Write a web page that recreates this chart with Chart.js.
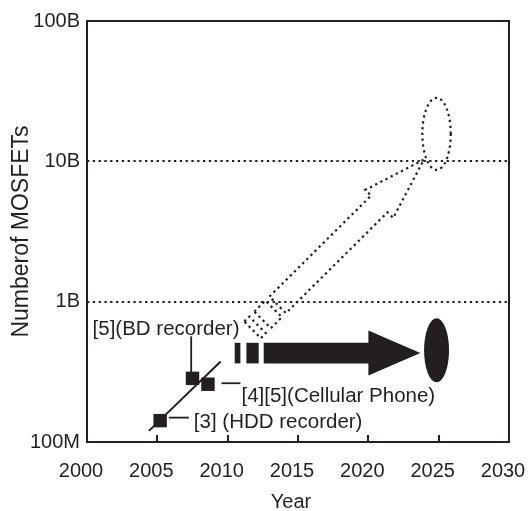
<!DOCTYPE html>
<html>
<head>
<meta charset="utf-8">
<script src="https://cdn.jsdelivr.net/npm/chart.js@4/dist/chart.umd.min.js"></script>
<style>
  html, body { margin: 0; padding: 0; background: #fff; }
  #wrap { width: 528px; height: 511px; }
</style>
</head>
<body>
<div id="wrap"><canvas id="chart" width="528" height="511"></canvas></div>
<script>
const INK = '#231f20';
const FONT = "'Liberation Sans', Arial, Helvetica, sans-serif";

// Reported products: year and MOSFET count
const productYears = [2005.2, 2007.5, 2008.6];
const productCounts = [1.42e8, 2.84e8, 2.58e8];
const productLabels = ['[3] (HDD recorder)', '[5](BD recorder)', '[4][5](Cellular Phone)'];

// Growth line through the reported products
const trendYears = [2004.4, 2009.5];
const trendCounts = [1.2e8, 3.75e8];

// Projection arrows (tail, tip) and their target ellipses
const flatYears = [2010.5, 2023.7];
const flatCounts = [4.3e8, 4.3e8];
const scaledYears = [2011.77, 2023.95];
const scaledCounts = [6.3e8, 1.029e10];
const targetYears = [2024.85, 2024.85];
const targetCounts = [4.5e8, 1.57e10];

// Axis ticks
const xTicks = [2000, 2005, 2010, 2015, 2020, 2025, 2030];
const yTicks = [1e8, 1e9, 1e10, 1e11];
const yTickLabels = ['100M', '1B', '10B', '100B'];
const gridCounts = [1e9, 1e10];

// Leader lines and label placement for each product (pixel offsets from its marker)
const callouts = [
  { leader: [[8.7, -3], [28.7, -3]], text: [33.7, 7.7], align: 'left' },
  { leader: [[-1.3, -6], [-1.3, -42]], text: [47, -43], align: 'right' },
  { leader: [[13.5, -1], [32.5, -1]], text: [33.5, 18], align: 'left' }
];

// Arrow outlines: tail blocks, shaft start, head length, half widths (px along the arrow)
const flatShape = { blocks: [[0, 5.7], [11.7, 24]], shaftStart: 29, headLen: 52, half: 10.3, headHalf: 22.5 };
const scaledShape = { blocks: [[0, 7], [14.1, 29.7]], shaftStart: 35.4, headLen: 62.9, half: 11.7, headHalf: 19.8 };

function arrowPolys(p0, p1, shape) {
  const dx = p1.x - p0.x, dy = p1.y - p0.y;
  const L = Math.hypot(dx, dy);
  const ux = dx / L, uy = dy / L;
  const nx = -uy, ny = ux;
  const at = (s, t) => [p0.x + ux * s + nx * t, p0.y + uy * s + ny * t];
  const h = shape.half, hh = shape.headHalf, hb = L - shape.headLen;
  const polys = shape.blocks.map(([a, b]) => [at(a, -h), at(b, -h), at(b, h), at(a, h)]);
  polys.push([at(shape.shaftStart, -h), at(hb, -h), at(hb, -hh), at(L, 0),
              at(hb, hh), at(hb, h), at(shape.shaftStart, h)]);
  return polys;
}

function tracePoly(ctx, poly) {
  ctx.beginPath();
  poly.forEach(([x, y], i) => (i ? ctx.lineTo(x, y) : ctx.moveTo(x, y)));
  ctx.closePath();
}

const overlay = {
  id: 'overlay',
  afterDatasetsDraw(chart) {
    const { ctx, chartArea: a, scales: { x, y } } = chart;
    const px = (yr, n) => ({ x: x.getPixelForValue(yr), y: y.getPixelForValue(n) });
    ctx.save();

    // solid projection: segmented arrow and filled ellipse
    ctx.fillStyle = INK;
    arrowPolys(px(flatYears[0], flatCounts[0]), px(flatYears[1], flatCounts[1]), flatShape)
      .forEach(p => { tracePoly(ctx, p); ctx.fill(); });
    const e0 = px(targetYears[0], targetCounts[0]);
    ctx.beginPath();
    ctx.ellipse(e0.x, e0.y, 12.5, 32, 0, 0, Math.PI * 2);
    ctx.fill();

    // dotted projection: outlined arrow and ellipse
    ctx.strokeStyle = INK;
    ctx.lineWidth = 2.2;
    ctx.setLineDash([2.3, 3.5]);
    arrowPolys(px(scaledYears[0], scaledCounts[0]), px(scaledYears[1], scaledCounts[1]), scaledShape)
      .forEach(p => { tracePoly(ctx, p); ctx.stroke(); });
    const e1 = px(targetYears[1], targetCounts[1]);
    ctx.beginPath();
    ctx.ellipse(e1.x, e1.y, 14.2, 36, 0, 0, Math.PI * 2);
    ctx.stroke();
    ctx.setLineDash([]);

    // plot frame and inward year ticks
    ctx.lineWidth = 2;
    ctx.strokeRect(a.left, a.top, a.right - a.left, a.bottom - a.top);
    ctx.beginPath();
    xTicks.slice(1, -1).forEach(v => {
      const tx = Math.round(x.getPixelForValue(v));
      ctx.moveTo(tx, a.bottom);
      ctx.lineTo(tx, a.bottom - 7);
    });
    ctx.stroke();

    // product callouts
    ctx.lineWidth = 1.8;
    ctx.font = `20.5px ${FONT}`;
    ctx.textBaseline = 'alphabetic';
    productYears.forEach((yr, i) => {
      const p = px(yr, productCounts[i]);
      const c = callouts[i];
      ctx.beginPath();
      ctx.moveTo(p.x + c.leader[0][0], p.y + c.leader[0][1]);
      ctx.lineTo(p.x + c.leader[1][0], p.y + c.leader[1][1]);
      ctx.stroke();
      ctx.textAlign = c.align;
      ctx.fillText(productLabels[i], p.x + c.text[0], p.y + c.text[1]);
    });

    // axis titles
    ctx.font = `20px ${FONT}`;
    ctx.textAlign = 'center';
    ctx.textBaseline = 'middle';
    ctx.fillText('Year', (a.left + a.right) / 2 - 7, 502);
    ctx.save();
    ctx.translate(22, (a.top + a.bottom) / 2);
    ctx.rotate(-Math.PI / 2);
    ctx.font = `23px ${FONT}`;
    ctx.fillText('Numberof MOSFETs', 0, 0);
    ctx.restore();

    ctx.restore();
  }
};

new Chart(document.getElementById('chart'), {
  type: 'scatter',
  data: {
    datasets: [
      {
        data: trendYears.map((v, i) => ({ x: v, y: trendCounts[i] })),
        showLine: true, borderColor: INK, borderWidth: 2, pointRadius: 0, order: 2
      },
      {
        data: productYears.map((v, i) => ({ x: v, y: productCounts[i] })),
        pointStyle: 'rect', pointRadius: 9.5, backgroundColor: INK, borderWidth: 0, order: 1
      }
    ]
  },
  options: {
    responsive: false,
    animation: false,
    devicePixelRatio: 1,
    layout: { padding: { top: 21, right: 19, left: 0, bottom: 0 } },
    plugins: { legend: { display: false }, tooltip: { enabled: false } },
    scales: {
      x: {
        type: 'linear', min: 2000, max: 2030,
        afterBuildTicks: s => { s.ticks = xTicks.map(v => ({ value: v })); },
        afterFit: s => { s.height = 69; s.paddingLeft = 0; s.paddingRight = 0; },
        grid: { display: false },
        border: { display: false },
        ticks: {
          font: { family: FONT, size: 20 }, color: INK, padding: 9,
          labelOffset: -6, maxRotation: 0, autoSkip: false,
          callback: v => String(v)
        }
      },
      y: {
        type: 'logarithmic', min: 1e8, max: 1e11,
        afterBuildTicks: s => { s.ticks = yTicks.map(v => ({ value: v })); },
        afterFit: s => { s.width = 87; },
        grid: {
          color: c => (c.tick && gridCounts.includes(c.tick.value)) ? INK : 'rgba(0,0,0,0)',
          lineWidth: 2, drawTicks: false
        },
        border: { display: false, dash: [2.3, 3.5] },
        ticks: {
          font: { family: FONT, size: 20 }, color: INK, padding: 7, autoSkip: false,
          callback: v => { const k = yTicks.indexOf(v); return k >= 0 ? yTickLabels[k] : ''; }
        }
      }
    }
  },
  plugins: [overlay]
});
</script>
</body>
</html>
